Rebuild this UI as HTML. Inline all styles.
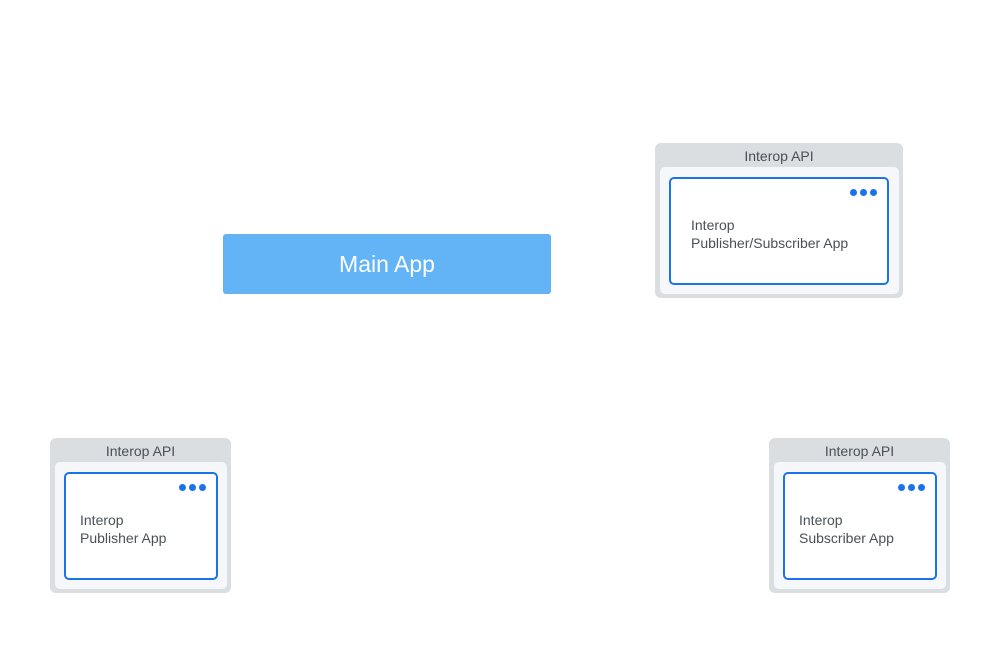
<!DOCTYPE html>
<html><head><style>
body{margin:0;width:1000px;height:650px;background:#fff;position:relative;font-family:"Liberation Sans",sans-serif;overflow:hidden}
.o{position:absolute;background:#dadee1;border-radius:6px}
.o .t{position:absolute;left:0;right:0;top:5px;text-align:center;font-size:14px;color:#4a5058}
.l{position:absolute;background:#f6f7fb;border-radius:5px;left:5px;right:4px;top:24px;bottom:4px}
.b{position:absolute;background:#fff;border:2px solid #1a73e8;border-radius:5px}
.b .d{position:absolute;right:10px;top:10px;display:flex;gap:3px}
.b .d i{width:7px;height:7px;border-radius:50%;background:#1a73e8;display:block}
.b .x{position:absolute;left:14px;top:37px;font-size:14px;line-height:18px;color:#4a5058}
</style></head><body>
<div style="position:absolute;left:223px;top:234px;width:328px;height:60px;background:#62b4f6;border-radius:3px;color:#fff;font-size:23px;text-align:center;line-height:60px">Main App</div>

<div class="o" style="left:655px;top:143px;width:248px;height:155px"><div class="t">Interop API</div><div class="l"></div></div>
<div class="b" style="left:669px;top:177px;width:216px;height:104px"><div class="d"><i></i><i></i><i></i></div><div class="x" style="left:20px">Interop<br>Publisher/Subscriber App</div></div>

<div class="o" style="left:50px;top:438px;width:181px;height:155px"><div class="t">Interop API</div><div class="l"></div></div>
<div class="b" style="left:64px;top:472px;width:150px;height:104px"><div class="d"><i></i><i></i><i></i></div><div class="x">Interop<br>Publisher App</div></div>

<div class="o" style="left:769px;top:438px;width:181px;height:155px"><div class="t">Interop API</div><div class="l"></div></div>
<div class="b" style="left:783px;top:472px;width:150px;height:104px"><div class="d"><i></i><i></i><i></i></div><div class="x">Interop<br>Subscriber App</div></div>
</body></html>
